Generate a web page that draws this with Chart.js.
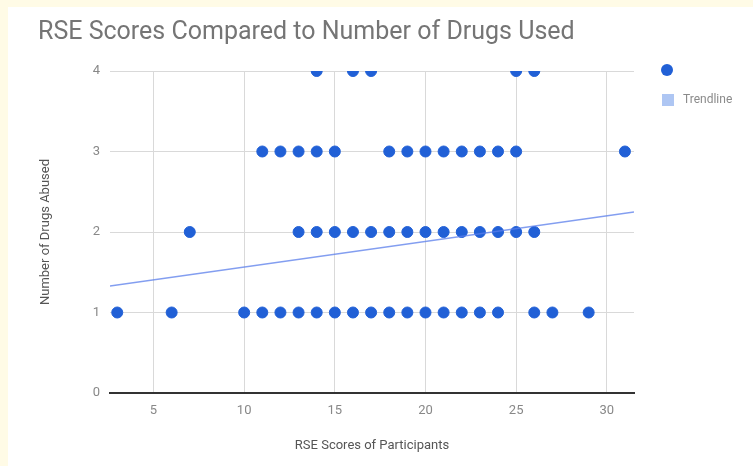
<!DOCTYPE html>
<html>
<head>
<meta charset="utf-8">
<script src="https://cdn.jsdelivr.net/npm/chart.js@4"></script>
<style>
  html, body { margin: 0; padding: 0; background: #fffbe6; }
  .wrap { position: absolute; left: 8px; top: 7px; width: 745px; height: 459px; background: #fff; }
</style>
</head>
<body>
<div class="wrap"><canvas class="chart-1"></canvas></div>
<script>
// scores per number of drugs
const drugs1 = [3, 6, 10, 11, 12, 13, 14, 15, 16, 17, 18, 19, 20, 21, 22, 23, 24, 26, 27, 29];
const drugs2 = [7, 13, 14, 15, 16, 17, 18, 19, 20, 21, 22, 23, 24, 25, 26];
const drugs3 = [11, 12, 13, 14, 15, 18, 19, 20, 21, 22, 23, 24, 25, 31];
const drugs4 = [14, 16, 17, 25, 26];

// trendline end points
const trendX = [2.6, 31.5];
const trendY = [1.33, 2.25];

const xTicks = [5, 10, 15, 20, 25, 30];
const yTicks = [0, 1, 2, 3, 4];

const chart1 = document.querySelector('.chart-1');

function toPoints(xs, y) {
    const pts = [];
    for (let i = 0; i < xs.length; i++) {
        pts.push({ x: xs[i], y: y });
    }
    return pts;
}

const scatterData = []
    .concat(toPoints(drugs1, 1))
    .concat(toPoints(drugs2, 2))
    .concat(toPoints(drugs3, 3))
    .concat(toPoints(drugs4, 4));

const trendData = [];
for (let i = 0; i < trendX.length; i++) {
    trendData.push({ x: trendX[i], y: trendY[i] });
}

const dotColor = '#2160d6';
const trendColor = 'rgba(90,125,235,0.75)';

// legend drawn next to the plot, like the sheets chart
const sideLegend = {
    id: 'sideLegend',
    afterDraw(chart) {
        const ctx = chart.ctx;
        const a = chart.chartArea;
        const x = a.right + 33;
        ctx.save();
        ctx.fillStyle = dotColor;
        ctx.beginPath();
        ctx.arc(x, a.top - 1, 6, 0, Math.PI * 2);
        ctx.fill();
        ctx.fillStyle = 'rgba(120,160,235,0.6)';
        ctx.fillRect(x - 5, a.top + 23, 12, 12);
        ctx.fillStyle = '#8a8a8a';
        ctx.font = '12px Roboto';
        ctx.textBaseline = 'middle';
        ctx.fillText('Trendline', x + 16, a.top + 29);
        ctx.restore();
    }
};

new Chart(chart1, {
    data: {
        datasets: [{
            type: 'line',
            label: 'Trendline',
            data: trendData,
            borderColor: trendColor,
            borderWidth: 1.5,
            pointRadius: 0,
            fill: false
        }, {
            type: 'scatter',
            label: '',
            data: scatterData,
            backgroundColor: dotColor,
            borderColor: dotColor,
            pointRadius: 5.5,
            pointHoverRadius: 5.5,
            clip: 0
        }]
    },
    options: {
        responsive: true,
        maintainAspectRatio: false,
        animation: false,
        layout: { padding: { left: 30, right: 119, top: 11, bottom: 12 } },
        plugins: {
            legend: { display: false },
            tooltip: { enabled: false },
            title: {
                display: true,
                text: 'RSE Scores Compared to Number of Drugs Used',
                align: 'start',
                color: '#757575',
                font: { family: 'Roboto', size: 25, weight: 'normal' },
                padding: { top: 0, bottom: 23 }
            }
        },
        scales: {
            x: {
                type: 'linear',
                min: trendX[0],
                max: trendX[1],
                afterBuildTicks: (scale) => {
                    scale.ticks = xTicks.map(v => ({ value: v }));
                },
                afterFit: (scale) => { scale.height = 61; },
                grid: { color: '#d9d9d9', drawTicks: false },
                border: { display: true, color: '#333', width: 2 },
                ticks: { color: '#888', padding: 10, font: { family: 'Roboto', size: 13 } },
                title: {
                    display: true,
                    text: 'RSE Scores of Participants',
                    color: '#555',
                    font: { family: 'Roboto', size: 13 },
                    padding: { top: 14, bottom: 0 }
                }
            },
            y: {
                type: 'linear',
                min: 0,
                max: 4,
                afterBuildTicks: (scale) => {
                    scale.ticks = yTicks.map(v => ({ value: v }));
                },
                afterFit: (scale) => { scale.width = 72; },
                grid: { color: '#d9d9d9', drawTicks: false },
                border: { display: false },
                ticks: { color: '#888', padding: 10, font: { family: 'Roboto', size: 13 } },
                title: {
                    display: true,
                    text: 'Number of Drugs Abused',
                    color: '#555',
                    font: { family: 'Roboto', size: 13 },
                    padding: 0
                }
            }
        }
    },
    plugins: [sideLegend]
});
</script>
</body>
</html>
